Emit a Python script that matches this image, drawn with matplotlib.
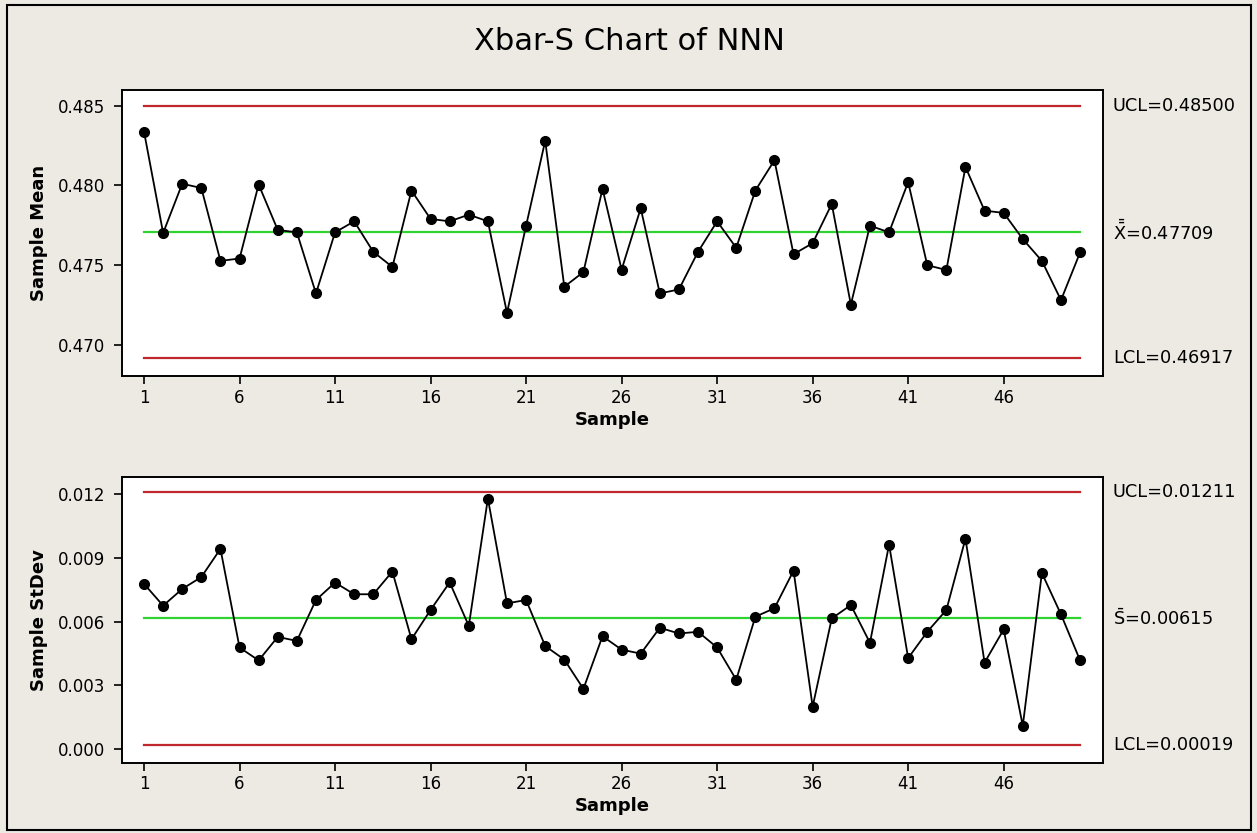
import matplotlib
matplotlib.use("Agg")
import matplotlib.pyplot as plt
from matplotlib.patches import Rectangle

# sample means (Xbar chart)
means = [0.48336, 0.47701, 0.48010, 0.47983, 0.47526, 0.47541, 0.48005, 0.47720, 0.47705, 0.47322,
         0.47705, 0.47774, 0.47583, 0.47488, 0.47967, 0.47789, 0.47774, 0.47816, 0.47774, 0.47200,
         0.47747, 0.48279, 0.47364, 0.47456, 0.47978, 0.47471, 0.47856, 0.47322, 0.47347, 0.47583,
         0.47774, 0.47608, 0.47967, 0.48157, 0.47568, 0.47637, 0.47883, 0.47252, 0.47747, 0.47705,
         0.48020, 0.47499, 0.47469, 0.48115, 0.47841, 0.47827, 0.47663, 0.47526, 0.47280, 0.47579]

# sample standard deviations (S chart)
stdevs = [0.00778, 0.00675, 0.00754, 0.00810, 0.00943, 0.00478, 0.00417, 0.00528, 0.00509, 0.00702,
          0.00784, 0.00729, 0.00729, 0.00836, 0.00517, 0.00655, 0.00785, 0.00580, 0.01180, 0.00686,
          0.00702, 0.00485, 0.00421, 0.00283, 0.00531, 0.00468, 0.00449, 0.00571, 0.00544, 0.00552,
          0.00478, 0.00326, 0.00623, 0.00663, 0.00840, 0.00199, 0.00615, 0.00678, 0.00500, 0.00963,
          0.00428, 0.00552, 0.00655, 0.00991, 0.00407, 0.00563, 0.00109, 0.00829, 0.00634, 0.00417]

samples = list(range(1, len(means) + 1))

xbar_limits = [0.48500, 0.47709, 0.46917]   # UCL, center, LCL
s_limits = [0.01211, 0.00615, 0.00019]

xbar_labels = ["UCL=0.48500", r"$\bar{\bar{\mathrm{X}}}$=0.47709", "LCL=0.46917"]
s_labels = ["UCL=0.01211", r"$\bar{\mathrm{S}}$=0.00615", "LCL=0.00019"]

xbar_ticks = [0.470, 0.475, 0.480, 0.485]
s_ticks = [0.000, 0.003, 0.006, 0.009, 0.012]
x_ticks = [1, 6, 11, 16, 21, 26, 31, 36, 41, 46]

BG = "#EDE9E3"
RED = "#C0282D"
GREEN = "#2FD22F"

fig = plt.figure(figsize=(12.57, 8.33), dpi=100, facecolor=BG)
# outer window frame
fig.patches.append(Rectangle((0.0055, 0.004), 0.9895, 0.99, transform=fig.transFigure,
                             fill=False, edgecolor="black", linewidth=1.5))

fig.text(0.501, 0.950, "Xbar-S Chart of NNN", ha="center", va="center", fontsize=22)

ax1 = fig.add_axes([0.0968, 0.5486, 0.7807, 0.3434])
ax2 = fig.add_axes([0.0968, 0.0844, 0.7807, 0.3428])


def draw_panel(ax, values, limits, labels, yticks, ylim, ylabel):
    ucl, cl, lcl = limits
    ax.plot([samples[0], samples[-1]], [ucl, ucl], color=RED, lw=1.6, zorder=2)
    ax.plot([samples[0], samples[-1]], [lcl, lcl], color=RED, lw=1.6, zorder=2)
    ax.plot([samples[0], samples[-1]], [cl, cl], color=GREEN, lw=1.6, zorder=2)
    ax.plot(samples, values, color="black", lw=1.3, marker="o", markersize=7, zorder=3)
    ax.set_xlim(-0.17, 51.2)
    ax.set_ylim(*ylim)
    ax.set_yticks(yticks)
    ax.set_yticklabels(["{:.3f}".format(t) for t in yticks])
    ax.set_xticks(x_ticks)
    ax.tick_params(axis="both", direction="out", length=6, width=1.2, labelsize=12)
    ax.tick_params(axis="x", pad=3)
    ax.tick_params(axis="y", pad=6)
    for side in ["top", "right", "left", "bottom"]:
        ax.spines[side].set_linewidth(1.4)
    ax.set_xlabel("Sample", fontsize=13, fontweight="bold", labelpad=3)
    ax.set_ylabel(ylabel, fontsize=13, fontweight="bold", labelpad=7)
    tr = ax.get_yaxis_transform()
    for val, lab in zip(limits, labels):
        ax.text(1.010, val, lab, transform=tr, ha="left", va="center", fontsize=12.8)


draw_panel(ax1, means, xbar_limits, xbar_labels, xbar_ticks, (0.46804, 0.48598), "Sample Mean")
draw_panel(ax2, stdevs, s_limits, s_labels, s_ticks, (-0.00065, 0.01281), "Sample StDev")

fig.savefig("out.png", dpi=100, facecolor=BG)
